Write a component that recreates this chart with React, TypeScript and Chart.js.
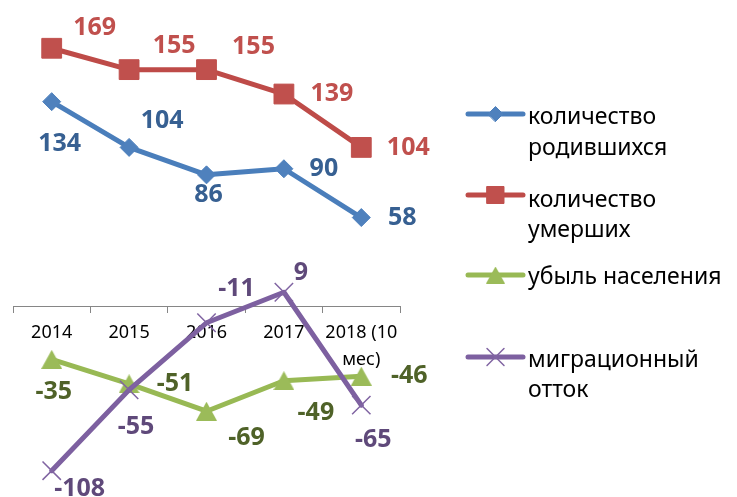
import React, { useEffect, useRef } from 'react';
import { Chart, registerables } from 'chart.js';
import { drawPoint } from 'chart.js/helpers';

Chart.register(...registerables);

// ---- data ----
const categories: (string | string[])[] = ['2014', '2015', '2016', '2017', ['2018 (10', 'мес)']];
const births = [134, 104, 86, 90, 58];
const deaths = [169, 155, 155, 139, 104];
const decline = [-35, -51, -69, -49, -46];
const migration = [-108, -55, -11, 9, -65];
const seriesNames: string[][] = [
  ['количество', 'родившихся'],
  ['количество', 'умерших'],
  ['убыль населения'],
  ['миграционный', 'отток'],
];

// ---- styles ----
const lineColors = ['#4A7EBB', '#BE4B48', '#98B954', '#7D60A0'];
const markerColors = ['#4F81BD', '#C0504D', '#9BBB59', '#8064A2'];
const labelColors = ['#376092', '#C0504D', '#4F6228', '#5F497A'];
const labelOffsets: number[][][] = [
  [[8, 42], [33, -27], [2, 20], [40, 0], [41, 0]],
  [[43, -20], [45, -24], [47, -23], [48, 0], [47, 0]],
  [[2, 32], [46, 0], [40, 27], [32, 32], [48, 0]],
  [[28, 18], [7, 37], [30, -34], [17, -19], [12, 35]],
];
const legendLayout = [
  { sampleY: 114, baselines: [124, 155] },
  { sampleY: 195, baselines: [207, 237] },
  { sampleY: 275, baselines: [284] },
  { sampleY: 357, baselines: [367, 397] },
];

function makeTriangle(w: number, h: number, color: string): HTMLCanvasElement {
  const c = document.createElement('canvas');
  c.width = w;
  c.height = h;
  const g = c.getContext('2d')!;
  g.fillStyle = color;
  g.beginPath();
  g.moveTo(w / 2, 0);
  g.lineTo(w, h);
  g.lineTo(0, h);
  g.closePath();
  g.fill();
  return c;
}

export default function App() {
  const ref = useRef<HTMLCanvasElement>(null);

  useEffect(() => {
    if (!ref.current) return;
    const triBig = makeTriangle(21, 19, markerColors[2]);
    const triSmall = makeTriangle(19, 17, markerColors[2]);

    const pointStyles: any[] = ['rectRot', 'rect', triBig, 'crossRot'];
    const pointRadii = [9, 14, 10, 13];
    const legendStyles: any[] = ['rectRot', 'rect', triSmall, 'crossRot'];
    const legendRadii = [7.5, 12, 9, 12];
    const pointBorderWidths = [1, 1, 0, 1.5];

    const series = [births, deaths, decline, migration];

    const valueLabels = {
      id: 'valueLabels',
      afterDatasetsDraw(chart: any) {
        const ctx = chart.ctx as CanvasRenderingContext2D;
        ctx.save();
        ctx.font = 'bold 25px "Noto Sans"';
        ctx.textAlign = 'center';
        ctx.textBaseline = 'middle';
        chart.data.datasets.forEach((ds: any, i: number) => {
          const meta = chart.getDatasetMeta(i);
          meta.data.forEach((pt: any, j: number) => {
            const [dx, dy] = labelOffsets[i][j];
            ctx.fillStyle = labelColors[i];
            ctx.fillText(String(ds.data[j]), pt.x + dx, pt.y + dy);
          });
        });
        ctx.restore();
      },
    };

    const customLegend = {
      id: 'customLegend',
      afterDraw(chart: any) {
        const ctx = chart.ctx as CanvasRenderingContext2D;
        ctx.save();
        seriesNames.forEach((lines, i) => {
          const { sampleY, baselines } = legendLayout[i];
          ctx.strokeStyle = lineColors[i];
          ctx.lineWidth = 5;
          ctx.lineCap = 'round';
          ctx.beginPath();
          ctx.moveTo(468, sampleY);
          ctx.lineTo(523, sampleY);
          ctx.stroke();
          ctx.fillStyle = markerColors[i];
          ctx.strokeStyle = markerColors[i];
          ctx.lineWidth = pointBorderWidths[i];
          drawPoint(ctx, { pointStyle: legendStyles[i], radius: legendRadii[i], rotation: 0, borderWidth: pointBorderWidths[i] } as any, 495.5, sampleY);
          ctx.fillStyle = '#000';
          ctx.font = '23px "Noto Sans"';
          ctx.textAlign = 'left';
          ctx.textBaseline = 'alphabetic';
          lines.forEach((t, k) => ctx.fillText(t, 528, baselines[k]));
        });
        ctx.restore();
      },
    };

    const chart = new Chart(ref.current, {
      type: 'line',
      data: {
        labels: categories as any,
        datasets: series.map((d, i) => ({
          label: seriesNames[i].join(' '),
          data: d,
          borderColor: lineColors[i],
          backgroundColor: markerColors[i],
          borderWidth: 5,
          borderCapStyle: 'round',
          borderJoinStyle: 'round',
          tension: 0,
          fill: false,
          clip: false,
          pointStyle: pointStyles[i],
          pointRadius: pointRadii[i],
          pointHoverRadius: pointRadii[i],
          pointBackgroundColor: markerColors[i],
          pointBorderColor: markerColors[i],
          pointBorderWidth: pointBorderWidths[i],
          order: 3 - i,
        })) as any,
      },
      options: {
        responsive: false,
        animation: false,
        events: [],
        layout: { autoPadding: false, padding: { left: 13, right: 337, top: 1, bottom: 8 } },
        plugins: {
          legend: { display: false },
          tooltip: { enabled: false },
          title: { display: false },
        },
        scales: {
          x: {
            type: 'category',
            offset: true,
            position: { y: 0 } as any,
            grid: {
              display: true,
              drawOnChartArea: false,
              drawTicks: true,
              tickLength: 6,
              offset: true,
              color: '#868686',
              lineWidth: 1,
            },
            border: { display: true, color: '#868686', width: 1 },
            ticks: {
              color: '#000',
              font: { family: 'Noto Sans', size: 18, lineHeight: 1.5 },
              padding: 7,
              maxRotation: 0,
              minRotation: 0,
              autoSkip: false,
            },
          },
          y: {
            display: false,
            min: -120,
            max: 200,
          },
        },
      },
      plugins: [valueLabels, customLegend],
    });
    return () => chart.destroy();
  }, []);

  return (
    <div style={{ position: 'absolute', left: 0, top: 0, width: 737, height: 497, background: '#fff' }}>
      <canvas ref={ref} width={737} height={497} style={{ display: 'block' }} />
    </div>
  );
}
